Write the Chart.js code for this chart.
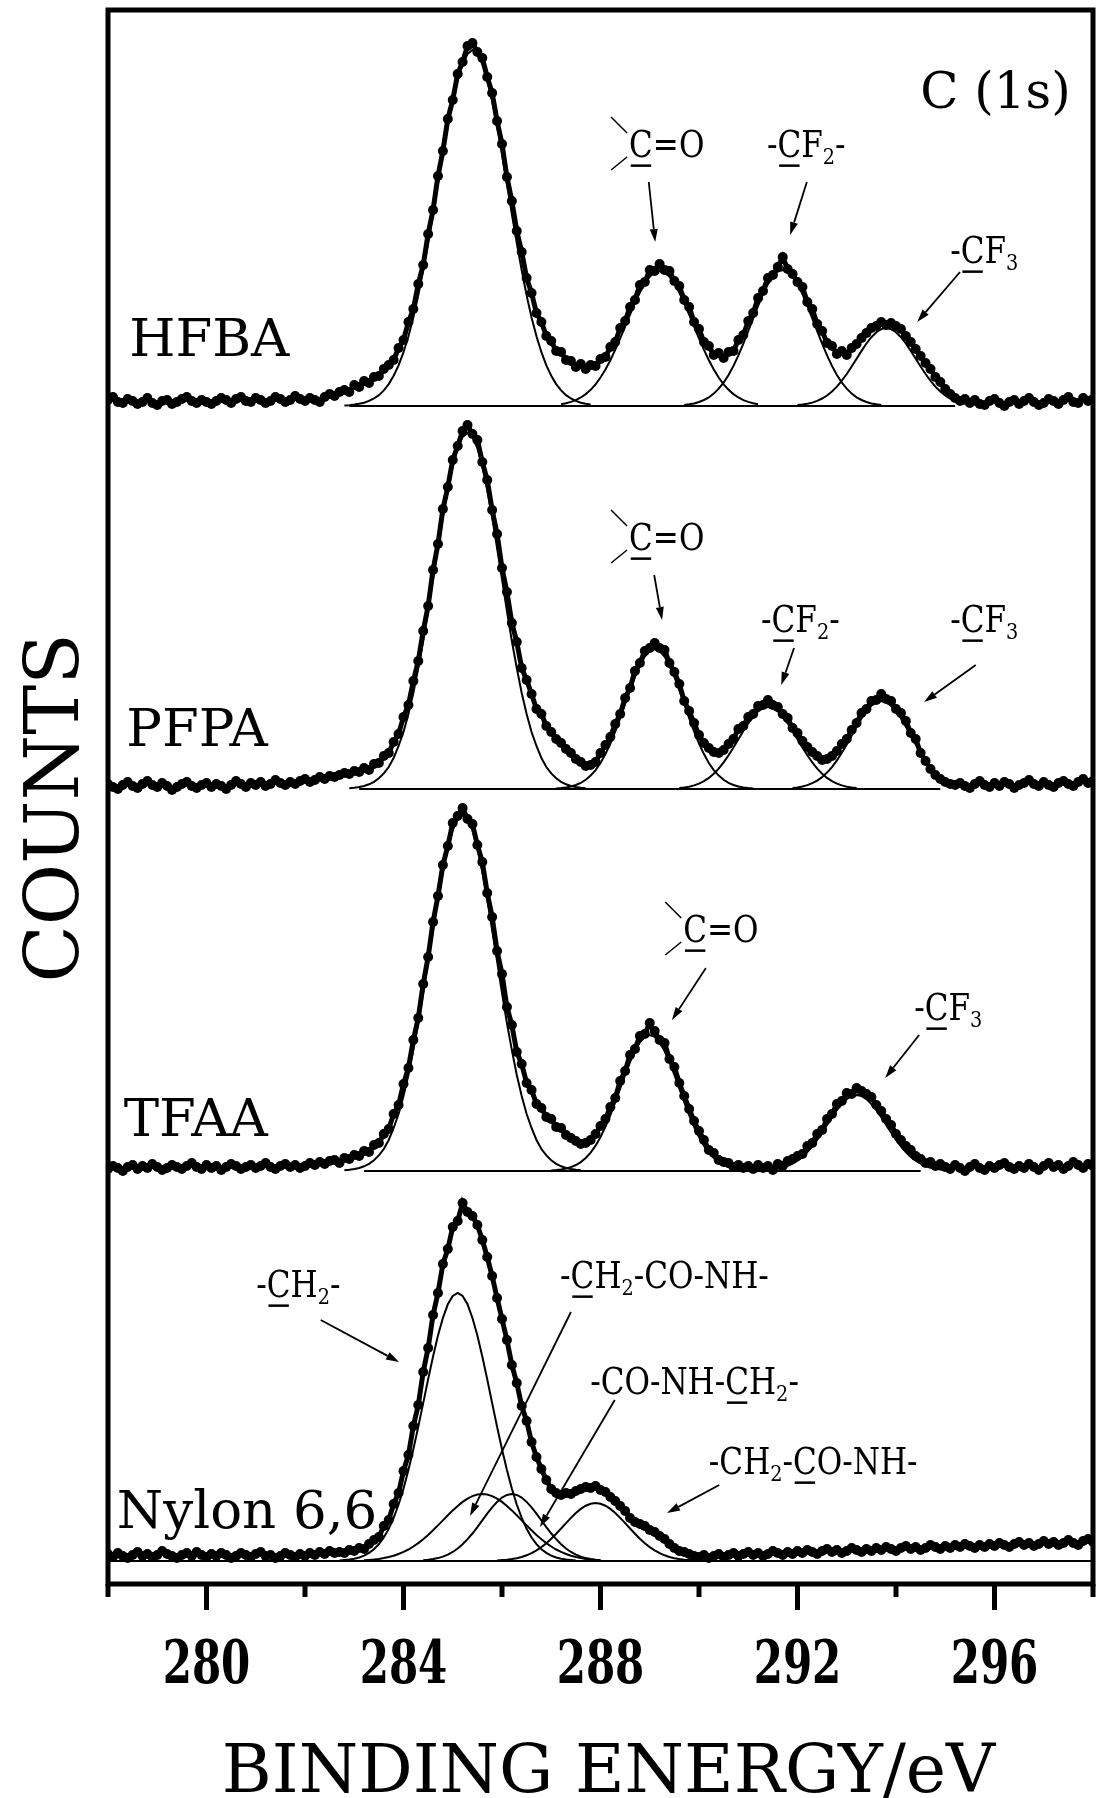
<!DOCTYPE html>
<html>
<head>
<meta charset="utf-8">
<script src="https://cdn.jsdelivr.net/npm/chart.js@4.4.1/dist/chart.umd.min.js"></script>
<style>
html,body{margin:0;padding:0;background:#fff}
#c{display:block}
</style>
</head>
<body>
<canvas id="c" width="1109" height="1798"></canvas>
<script>
"use strict"

// binding energy grid (eV), shared by all four spectra
const energy = [
278.0,278.1,278.2,278.3,278.4,278.5,278.6,278.7,278.8,278.9,
279.0,279.1,279.2,279.3,279.4,279.5,279.6,279.7,279.8,279.9,
280.0,280.1,280.2,280.3,280.4,280.5,280.6,280.7,280.8,280.9,
281.0,281.1,281.2,281.3,281.4,281.5,281.6,281.7,281.8,281.9,
282.0,282.1,282.2,282.3,282.4,282.5,282.6,282.7,282.8,282.9,
283.0,283.1,283.2,283.3,283.4,283.5,283.6,283.7,283.8,283.9,
284.0,284.1,284.2,284.3,284.4,284.5,284.6,284.7,284.8,284.9,
285.0,285.1,285.2,285.3,285.4,285.5,285.6,285.7,285.8,285.9,
286.0,286.1,286.2,286.3,286.4,286.5,286.6,286.7,286.8,286.9,
287.0,287.1,287.2,287.3,287.4,287.5,287.6,287.7,287.8,287.9,
288.0,288.1,288.2,288.3,288.4,288.5,288.6,288.7,288.8,288.9,
289.0,289.1,289.2,289.3,289.4,289.5,289.6,289.7,289.8,289.9,
290.0,290.1,290.2,290.3,290.4,290.5,290.6,290.7,290.8,290.9,
291.0,291.1,291.2,291.3,291.4,291.5,291.6,291.7,291.8,291.9,
292.0,292.1,292.2,292.3,292.4,292.5,292.6,292.7,292.8,292.9,
293.0,293.1,293.2,293.3,293.4,293.5,293.6,293.7,293.8,293.9,
294.0,294.1,294.2,294.3,294.4,294.5,294.6,294.7,294.8,294.9,
295.0,295.1,295.2,295.3,295.4,295.5,295.6,295.7,295.8,295.9,
296.0,296.1,296.2,296.3,296.4,296.5,296.6,296.7,296.8,296.9,
297.0,297.1,297.2,297.3,297.4,297.5,297.6,297.7,297.8,297.9,
298.0
];

const samples = ['HFBA', 'PFPA', 'TFAA', 'Nylon 6,6'];
// vertical stacking offset of each spectrum (counts, arb. units)
const offsets = [1178, 795, 413, 23];

// measured counts above each spectrum's fit baseline
const hfbaCounts = [
6,9,4,3,7,5,2,4,8,3, 1,5,6,2,4,7,9,5,3,6, 4,2,5,8,6,3,7,9,5,4, 8,6,3,5,9,7,4,6,10,7,
5,8,6,4,9,12,10,14,16,14, 21,19,25,23,29,30,37,41,46,58,
66,84,97,122,141,172,196,230,255,287, 306,332,344,360,363,354,348,329,313,285,
262,229,205,175,154,128,113,93,84,70, 65,55,54,46,45,39,42,37,41,40,
47,49,59,64,78,85,99,106,121,124, 136,135,142,136,135,125,120,106,99,84,
77,64,60,51,53,48,54,55,66,71, 85,93,108,115,128,131,139,149,137,132,
124,119,104,97,82,75,63,60,52,55, 51,58,62,68,73,78,80,84,81,83,
80,77,70,64,57,50,43,37,29,24, 17,12,8,5,7,3,6,2,1,5,
7,3,0,4,6,2,5,8,4,1, 3,7,5,2,6,9,4,3,8,5, 7
];
const pfpaCounts = [
5,2,0,4,7,3,1,5,8,4, 2,6,3,-1,2,5,7,3,1,4, 6,2,5,3,0,4,8,5,2,6, 4,7,3,5,9,6,4,7,5,8,
10,7,9,12,10,13,12,14,16,15, 18,17,21,19,25,26,33,36,47,55,
72,84,108,128,158,183,219,245,280,302, 329,343,358,364,355,349,327,309,279,255,
221,197,166,147,121,109,95,80,75,63, 57,50,46,40,36,30,27,23,24,27,
36,44,52,65,75,91,101,118,126,138, 141,146,141,139,126,117,105,88,78,66,
54,46,41,37,36,39,45,50,60,63, 72,75,83,84,89,84,82,75,71,61,
56,48,42,37,33,29,30,33,38,45, 50,59,66,76,80,88,89,95,90,88,
80,76,68,56,50,36,28,20,14,10, 7,5,4,6,3,1,5,8,4,2,
6,3,7,5,1,4,6,9,5,3, 7,4,2,6,8,5,3,7,10,6, 8
];
const tfaaCounts = [
2,5,3,0,4,6,2,5,3,7, 4,1,3,6,4,2,5,8,4,2, 6,3,5,1,4,7,5,2,4,6, 3,5,8,4,2,5,7,4,6,3,
5,8,6,9,7,10,11,8,13,12, 16,15,20,19,26,28,37,42,57,66,
87,103,131,153,187,214,249,275,306,325, 348,355,363,352,347,326,309,278,254,220,
197,164,146,119,107,88,81,67,63,54, 52,44,43,36,33,30,27,28,31,37,
45,52,64,73,90,100,116,122,135,137, 148,140,131,128,112,104,88,75,62,50,
40,31,21,18,11,9,8,4,6,3, 5,2,6,3,5,1,7,5,10,12,
15,17,25,28,37,41,52,57,67,70, 78,77,83,80,77,74,66,60,52,46,
37,31,25,21,15,12,8,9,5,7, 4,2,6,3,0,4,7,3,1,5,
3,6,8,4,2,5,3,7,4,1, 5,8,4,6,2,5,9,6,3,7, 5
];
const nylonCounts = [
7,4,8,5,3,6,9,5,7,4, 6,10,7,5,3,6,8,5,9,6, 4,7,5,8,6,3,5,8,6,4, 7,9,5,6,3,5,8,6,4,7,
5,8,6,9,7,10,8,9,8,11, 10,13,12,17,21,24,35,41,57,68,
90,106,135,156,189,213,246,268,297,312, 334,340,358,349,345,336,321,304,285,263,
242,221,196,178,155,140,119,104,92,81, 72,68,66,68,67,70,72,74,73,75,
71,69,64,60,55,50,43,39,37,35, 31,29,25,22,17,13,10,9,7,5,
4,6,3,5,7,4,6,8,5,7, 9,6,8,5,7,10,8,6,9,7,
10,8,11,9,7,10,12,9,11,8, 10,13,11,9,12,10,13,11,14,12,
10,13,15,12,14,11,13,16,14,12, 15,13,16,14,17,15,13,16,14,17,
15,18,16,14,17,19,16,18,15,17, 20,17,19,16,18,21,18,16,20,22, 19
];

// fitted components: first energy of each curve, then its values on the grid
const hfbaFitFrom = [282.8, 287.2, 289.7, 292.0];
const hfbaFitMain = [0.5,0.8,1.4,2.2,3.3,5.1,7.5,10.9,15.6,21.9,30.2,40.6,53.8,69.8,88.6,110.7,135.6,163,192,222,
  252,280,305,326,342,352,356,352,342,326,305,280,252,222,192,163,135.6,110.7,88.6,69.8,
  53.8,40.6,30.2,21.9,15.6,10.9,7.5,5.1,3.3,2.2,1.4];
const hfbaFitCO = [1.8,2.7,4.1,5.9,8.5,11.9,16.2,21.7,28.5,36.5,45.8,56.3,67.6,79.5,91.5,103,113.5,122.4,129.3,133.5,
  135,133.5,129.3,122.4,113.5,103,91.5,79.5,67.6,56.3,45.8,36.5,28.5,21.7,16.2,11.9,8.5,5.9,4.1,2.7,1.8];
const hfbaFitCF2 = [1.0,1.7,2.6,4.0,6.0,8.7,12.4,17.3,23.4,31,40.1,50.6,62.3,74.8,87.7,100.2,112,121.9,129.5,134.4,
  136,134.4,129.5,121.9,112,100.2,87.7,74.8,62.3,50.6,40.1,31,23.4,17.3,12.4,8.7,6.0,4.0,2.6,1.7,1.0];
const hfbaFitCF3 = [0.9,1.4,2.2,3.4,5.1,7.5,10.5,14.5,19.4,25.4,32,39.5,47.3,55.1,62.5,68.8,73.8,76.9,78,76.9,
  73.8,68.8,62.5,55.1,47.3,39.5,32,25.4,19.4,14.5,10.5,7.5,5.1,3.4,2.2,1.4,0.9];

const pfpaFitFrom = [282.9, 287.1, 289.6, 291.9];
const pfpaFitMain = [0.7,1.2,1.9,3.0,4.7,7.2,10.7,15.6,22,31,43,57,75,96,121,148,178,210,241,272,
  299,323,341,352,356,352,341,323,299,272,241,210,178,148,121,96,75,57,43,31,
  22,15.6,10.7,7.2,4.7,3.0,1.9,1.2,0.7];
const pfpaFitCO = [0.5,0.9,1.6,2.5,4.0,6.1,9.2,13.4,18.9,26,34.9,45.5,57.5,70.8,85,99,112.1,123.5,132.4,138,
  140,138,132.4,123.5,112.1,99,85,70.8,57.5,45.5,34.9,26,18.9,13.4,9.2,6.1,4.0,2.5,1.6,0.9,0.5];
const pfpaFitCF2 = [0.9,1.5,2.3,3.6,5.4,7.8,11.1,15.3,20.4,26.7,33.7,41.5,49.8,58,65.7,72.3,77.6,80.9,82,
  80.9,77.6,72.3,65.7,58,49.8,41.5,33.7,26.7,20.4,15.3,11.1,7.8,5.4,3.6,2.3,1.5,0.9];
const pfpaFitCF3 = [1.0,1.6,2.5,3.9,5.8,8.4,11.9,16.4,21.9,28.6,36.2,44.5,53.4,62.2,70.5,77.6,83.2,86.8,88,
  86.8,83.2,77.6,70.5,62.2,53.4,44.5,36.2,28.6,21.9,16.4,11.9,8.4,5.8,3.9,2.5,1.6,1.0];

const tfaaFitFrom = [282.8, 287.0, 291.4];
const tfaaFitMain = [0.7,1.2,1.9,3.0,4.7,7.2,10.7,15.6,22,31,43,57,75,96,121,148,178,210,241,272,
  299,323,341,352,356,352,341,323,299,272,241,210,178,148,121,96,75,57,43,31,
  22,15.6,10.7,7.2,4.7,3.0,1.9,1.2,0.7];
const tfaaFitCO = [0.5,0.9,1.5,2.5,3.9,6.0,8.9,13,18.4,25.3,33.9,44.2,55.9,68.8,82.6,96.2,108.9,120,128.7,134.1,
  136,134.1,128.7,120,108.9,96.2,82.6,68.8,55.9,44.2,33.9,25.3,18.4,13,8.9,6.0,3.9,2.5,1.5,0.9,0.5];
const tfaaFitCF3 = [0.8,1.4,2.2,3.3,5.0,7.3,10.3,14.1,18.9,24.7,31.2,38.5,46.1,53.7,60.9,67,71.9,74.9,76,
  74.9,71.9,67,60.9,53.7,46.1,38.5,31.2,24.7,18.9,14.1,10.3,7.3,5.0,3.3,2.2,1.4,0.8];

const nylonFitFrom = [282.7, 283.2, 284.4, 285.9];
const nylonFitCH2 = [0.5,0.9,1.4,2.3,3.5,5.4,8.1,11.8,16.8,23.5,32.2,43.1,56.5,72.4,90.9,111.8,134.3,157.9,181.7,204.5,
  225.4,243,256.7,265,268,265,256.7,243,225.4,204.5,181.7,157.9,134.3,111.8,90.9,72.4,56.5,43.1,32.2,23.5,
  16.8,11.8,8.1,5.4,3.5,2.3,1.4,0.9,0.5];
const nylonFitA = [0.7,1.1,1.5,2.1,2.9,4,5.3,7,9.1,11.5,14.5,17.9,21.8,26,30.7,35.6,40.6,45.7,50.6,55.1,
  59.1,62.4,64.9,66.5,67,66.5,64.9,62.4,59.1,55.1,50.6,45.7,40.6,35.6,30.7,26,21.8,17.9,14.5,11.5,
  9.1,7,5.3,4,2.9,2.1,1.5,1.1,0.7];
const nylonFitB = [0.7,1.2,1.9,2.9,4.4,6.4,9,12.5,16.7,21.8,27.5,33.9,40.7,47.4,53.7,59.1,63.4,66.1,67,
  66.1,63.4,59.1,53.7,47.4,40.7,33.9,27.5,21.8,16.7,12.5,9,6.4,4.4,2.9,1.9,1.2,0.7];
const nylonFitC = [0.6,0.9,1.3,1.9,2.8,4,5.7,7.8,10.6,13.9,17.8,22.2,27.2,32.5,37.9,43.1,48,52.1,55.3,57.3,
  58,57.3,55.3,52.1,48,43.1,37.9,32.5,27.2,22.2,17.8,13.9,10.6,7.8,5.7,4,2.8,1.9,1.3,0.9,0.6];

// flat fit baseline under each spectrum
const fitBaseFrom = [282.9, 283.1, 283.2, 278.0];
const fitBaseTo = [295.2, 294.9, 294.5, 298.0];

// x axis ticks
const majorTicks = [280, 284, 288, 292, 296];
const minorTicks = [278, 282, 286, 290, 294, 298];

// annotations: text ('_' underlines next char, digits are subscripts), left x, baseline y
const tagText = ['_C=O', '-_CF2-', '-_CF3',
                 '_C=O', '-_CF2-', '-_CF3',
                 '_C=O', '-_CF3',
                 '-_CH2-', '-_CH2-CO-NH-', '-CO-NH-_CH2-', '-CH2-_CO-NH-'];
const tagAt = [[288.58,1427],[291.38,1427],[295.10,1321],
               [288.58,1034],[291.26,952],[295.10,952],
               [289.68,642],[294.37,564],
               [281.01,287],[287.18,296],[287.79,190],[290.20,110]];
const tagArrow = [[288.98,1402,289.11,1342],[292.19,1402,291.85,1349],[295.30,1312,294.43,1262],
                  [289.09,1009,289.25,964],[291.93,936,291.67,899],[295.62,919,294.57,882],
                  [290.14,616,289.45,564],[294.47,549,293.78,506],
                  [282.32,264,283.91,222],[287.40,272,285.35,68],[288.29,184,286.77,57],[290.41,99,289.35,71]];
const sampleAt = [[278.43,1228],[278.37,838],[278.32,448],[278.18,56]];

const SERIF = '"DejaVu Serif", "Liberation Serif", serif';

function pointsFrom(vals, from, off){
    const i0 = energy.indexOf(from);
    return vals.map((v, i) => ({x: energy[i0 + i], y: v + off}));
}

function dataSet(counts, off){
    return {
        data: counts.map((v, i) => ({x: energy[i], y: v + off})),
        borderColor: '#000', borderWidth: 5,
        pointRadius: 5, pointBackgroundColor: '#000', pointBorderWidth: 0,
        tension: 0, order: 0
    };
}

function fitSet(points){
    return {
        data: points, borderColor: '#000', borderWidth: 2,
        pointRadius: 0, tension: 0, order: 1
    };
}

const datasets = [];
const countsAll = [hfbaCounts, pfpaCounts, tfaaCounts, nylonCounts];
countsAll.forEach((c, k) => datasets.push(dataSet(c, offsets[k])));

const fitGroups = [
    [hfbaFitFrom, [hfbaFitMain, hfbaFitCO, hfbaFitCF2, hfbaFitCF3]],
    [pfpaFitFrom, [pfpaFitMain, pfpaFitCO, pfpaFitCF2, pfpaFitCF3]],
    [tfaaFitFrom, [tfaaFitMain, tfaaFitCO, tfaaFitCF3]],
    [nylonFitFrom, [nylonFitCH2, nylonFitA, nylonFitB, nylonFitC]]
];
fitGroups.forEach((g, k) => {
    g[1].forEach((vals, j) => datasets.push(fitSet(pointsFrom(vals, g[0][j], offsets[k]))));
    datasets.push(fitSet([{x: fitBaseFrom[k], y: offsets[k]}, {x: fitBaseTo[k], y: offsets[k]}]));
});

// draw a label char by char so subscripts and underlines land right;
// the glyphs are squeezed sideways like the narrow type of the original
function drawTag(ctx, text, x, y, size){
    const squeeze = 0.84;
    ctx.save();
    ctx.translate(x, y);
    ctx.scale(squeeze, 1);
    let cx = 0;
    let under = false;
    for(const ch of text){
        if(ch === '_'){ under = true; continue; }
        const sub = /[0-9]/.test(ch);
        ctx.font = (sub ? Math.round(size*0.62) : size) + 'px ' + SERIF;
        const w = ctx.measureText(ch).width;
        ctx.fillText(ch, cx, sub ? size*0.2 : 0);
        if(under){
            ctx.fillRect(cx + 2, size*0.2, w - 4, 2.5);
            under = false;
        }
        cx += w;
    }
    ctx.restore();
}

function drawArrow(ctx, x1, y1, x2, y2){
    const a = Math.atan2(y2 - y1, x2 - x1);
    const L = 13, W = 4;
    ctx.beginPath();
    ctx.moveTo(x1, y1);
    ctx.lineTo(x2 - L*Math.cos(a), y2 - L*Math.sin(a));
    ctx.stroke();
    ctx.beginPath();
    ctx.moveTo(x2, y2);
    ctx.lineTo(x2 - L*Math.cos(a) + W*Math.sin(a), y2 - L*Math.sin(a) - W*Math.cos(a));
    ctx.lineTo(x2 - L*Math.cos(a) - W*Math.sin(a), y2 - L*Math.sin(a) + W*Math.cos(a));
    ctx.closePath();
    ctx.fill();
}

const figurePlugin = {
    id: 'figure',
    afterDraw(chart){
        const ctx = chart.ctx;
        const a = chart.chartArea;
        const xs = chart.scales.x, ys = chart.scales.y;
        ctx.save();
        ctx.fillStyle = '#000';
        ctx.strokeStyle = '#000';

        // frame
        ctx.lineWidth = 5;
        ctx.strokeRect(a.left, a.top, a.right - a.left, a.bottom - a.top);

        // ticks
        majorTicks.forEach(t => {
            const px = xs.getPixelForValue(t);
            ctx.beginPath(); ctx.moveTo(px, a.bottom); ctx.lineTo(px, a.bottom + 26); ctx.stroke();
        });
        minorTicks.forEach(t => {
            const px = xs.getPixelForValue(t);
            ctx.beginPath(); ctx.moveTo(px, a.bottom); ctx.lineTo(px, a.bottom + 13); ctx.stroke();
        });

        // tick labels (narrow, tall, heavy digits as in the original)
        ctx.textAlign = 'center';
        ctx.textBaseline = 'alphabetic';
        majorTicks.forEach(t => {
            ctx.save();
            ctx.translate(xs.getPixelForValue(t), a.bottom + 99);
            ctx.scale(0.7, 1);
            ctx.font = 'bold 60px ' + SERIF;
            ctx.fillText(String(t), 0, 0);
            ctx.restore();
        });

        // axis titles
        ctx.font = '68px ' + SERIF;
        ctx.fillText('BINDING ENERGY/eV', (a.left + a.right)/2 + 8, 1792);
        ctx.save();
        ctx.translate(78, 808);
        ctx.rotate(-Math.PI/2);
        ctx.font = '75px ' + SERIF;
        ctx.fillText('COUNTS', 0, 0);
        ctx.restore();

        // sample names and core level
        ctx.textAlign = 'left';
        ctx.font = '53px ' + SERIF;
        samples.forEach((s, k) => {
            ctx.fillText(s, xs.getPixelForValue(sampleAt[k][0]), ys.getPixelForValue(sampleAt[k][1]));
        });
        ctx.font = '50px ' + SERIF;
        ctx.fillText('C (1s)', xs.getPixelForValue(294.49), ys.getPixelForValue(1476));

        // peak assignments with arrows
        ctx.lineWidth = 1.8;
        tagText.forEach((t, i) => {
            const x = xs.getPixelForValue(tagAt[i][0]);
            const y = ys.getPixelForValue(tagAt[i][1]);
            drawTag(ctx, t, x, y, 37);
            if(t === '_C=O'){
                ctx.lineWidth = 1.5;
                ctx.beginPath();
                ctx.moveTo(x - 18, y - 40); ctx.lineTo(x - 2, y - 24);
                ctx.moveTo(x - 2, y); ctx.lineTo(x - 18, y + 13);
                ctx.stroke();
                ctx.lineWidth = 1.8;
            }
            const r = tagArrow[i];
            drawArrow(ctx, xs.getPixelForValue(r[0]), ys.getPixelForValue(r[1]),
                           xs.getPixelForValue(r[2]), ys.getPixelForValue(r[3]));
        });
        ctx.restore();
    }
};

new Chart(document.getElementById('c'), {
    type: 'line',
    data: {datasets: datasets},
    options: {
        responsive: false,
        animation: false,
        devicePixelRatio: 1,
        layout: {padding: {left: 108, right: 16, top: 10, bottom: 214}},
        plugins: {legend: {display: false}, tooltip: {enabled: false}},
        scales: {
            x: {type: 'linear', min: 278, max: 298, display: false},
            y: {type: 'linear', min: 0, max: 1574, display: false}
        }
    },
    plugins: [figurePlugin]
});
</script>
</body>
</html>
